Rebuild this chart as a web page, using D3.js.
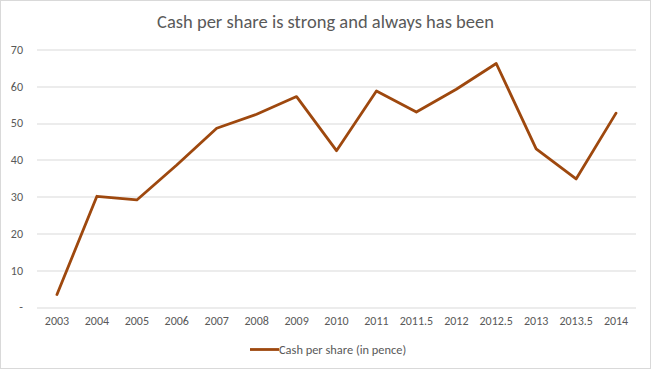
<!DOCTYPE html>
<html>
<head>
<meta charset="utf-8">
<script src="https://cdn.jsdelivr.net/npm/d3@7"></script>
<style>
  body { margin: 0; background: #fff; }
  svg text { font-family: Calibri, Carlito, "Liberation Sans Narrow", "Open Sans", sans-serif; fill: #595959; }
</style>
</head>
<body>
<div id="drawing_region"></div>
<script>
// Chart data
const categories = ["2003", "2004", "2005", "2006", "2007", "2008", "2009", "2010",
                    "2011", "2011.5", "2012", "2012.5", "2013", "2013.5", "2014"];
const cashPerShare = [3.4, 30.1, 29.1, 38.6, 48.6, 52.4, 57.2, 42.5,
                      58.7, 53.0, 59.2, 66.2, 43.0, 34.8, 52.7];
const yTicks = [0, 10, 20, 30, 40, 50, 60, 70];
const seriesName = "Cash per share (in pence)";
const title = "Cash per share is strong and always has been";

const config = {
    width: 651,
    height: 370,
    margin: {top: 49.5, right: 15, bottom: 63, left: 37}
};

const svg = d3.select('#drawing_region')
    .append('svg')
    .attr('width', config.width)
    .attr('height', config.height);

// outer frame
svg.append('rect')
    .attr('x', 0.5).attr('y', 0.5)
    .attr('width', config.width - 1).attr('height', config.height - 2)
    .attr('fill', '#fff')
    .attr('stroke', '#d9d9d9');

const inner_width = config.width - config.margin.left - config.margin.right;
const inner_height = config.height - config.margin.top - config.margin.bottom;

const chart = svg.append('g')
    .attr('transform', `translate(${config.margin.left}, ${config.margin.top})`);

const xscale = d3.scaleBand()
    .domain(categories)
    .range([0, inner_width]);

const yscale = d3.scaleLinear()
    .domain([0, 70])
    .range([inner_height, 0]);

// gridlines
chart.append('g')
    .selectAll('line')
    .data(yTicks)
    .join('line')
    .attr('x1', 0)
    .attr('x2', inner_width)
    .attr('y1', d => Math.round(yscale(d)) + 0.5)
    .attr('y2', d => Math.round(yscale(d)) + 0.5)
    .attr('stroke', '#d9d9d9')
    .attr('stroke-width', 1);

// y axis labels
const yaxis = d3.axisLeft(yscale)
    .tickValues(yTicks)
    .tickSize(0)
    .tickPadding(14)
    .tickFormat(d => d === 0 ? '-' : d);

chart.append('g')
    .call(yaxis)
    .call(g => g.select('.domain').remove())
    .selectAll('text')
    .attr('font-size', 12)
    .style('font-family', null);

// x axis labels
const xaxis = d3.axisBottom(xscale)
    .tickSize(0)
    .tickPadding(9);

chart.append('g')
    .attr('transform', `translate(0, ${inner_height})`)
    .call(xaxis)
    .call(g => g.select('.domain').remove())
    .selectAll('text')
    .attr('font-size', 12)
    .style('font-family', null);

d3.selectAll('.tick text').attr('fill', '#595959');

// line
const line = d3.line()
    .x((d, i) => xscale(categories[i]) + xscale.bandwidth() / 2)
    .y(d => yscale(d));

chart.append('path')
    .datum(cashPerShare)
    .attr('fill', 'none')
    .attr('stroke', '#9e480e')
    .attr('stroke-width', 2.8)
    .attr('stroke-linejoin', 'round')
    .attr('stroke-linecap', 'round')
    .attr('d', line);

// title
svg.append('text')
    .attr('x', config.width / 2)
    .attr('y', 28)
    .attr('text-anchor', 'middle')
    .attr('font-size', 18.5)
    .text(title);

// legend
const legend = svg.append('g')
    .attr('transform', 'translate(250, 349.5)');

legend.append('line')
    .attr('x1', 0).attr('x2', 29)
    .attr('y1', 0).attr('y2', 0)
    .attr('stroke', '#9e480e')
    .attr('stroke-width', 2.8);

legend.append('text')
    .attr('x', 29)
    .attr('y', 4)
    .attr('font-size', 12.4)
    .text(seriesName);
</script>
</body>
</html>
